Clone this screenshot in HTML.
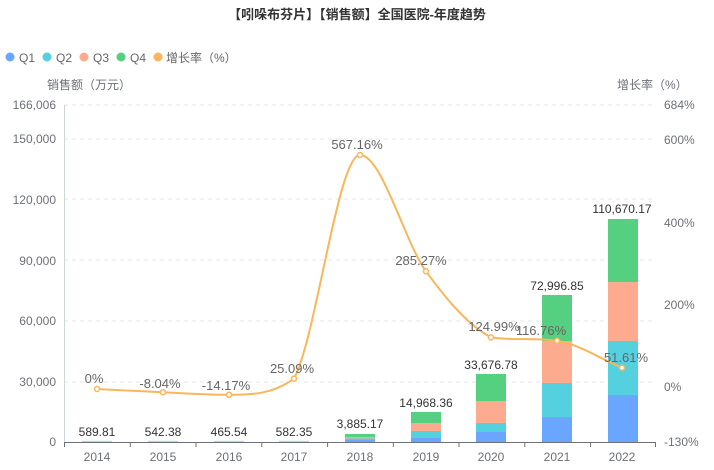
<!DOCTYPE html><html><head><meta charset="utf-8"><style>body{margin:0;background:#fff}svg{display:block;font-family:"Liberation Sans","Noto Sans CJK SC",sans-serif}</style></head><body>
<svg width="714" height="470" viewBox="0 0 714 470">
<text x="357" y="19" text-anchor="middle" font-size="13" font-weight="bold" fill="#333">【吲哚布芬片】【销售额】全国医院-年度趋势</text>
<g font-size="12" fill="#666">
<circle cx="10" cy="57" r="4.5" fill="#6aa5ff"/><text x="19" y="62">Q1</text>
<circle cx="47" cy="57" r="4.5" fill="#55d0df"/><text x="56" y="62">Q2</text>
<circle cx="84" cy="57" r="4.5" fill="#fcab8f"/><text x="93" y="62">Q3</text>
<circle cx="121" cy="57" r="4.5" fill="#55cf80"/><text x="130" y="62">Q4</text>
<circle cx="158" cy="57" r="4.5" fill="#f9b65a"/><text x="166" y="62">增长率（%）</text>
</g>
<g font-size="12" fill="#6e7079">
<text x="47" y="89">销售额（万元）</text>
<text x="617" y="89">增长率（%）</text>
<g text-anchor="end"><text x="56" y="109">166,006</text><text x="56" y="143">150,000</text><text x="56" y="204">120,000</text><text x="56" y="265">90,000</text><text x="56" y="325">60,000</text><text x="56" y="386">30,000</text><text x="56" y="446">0</text></g>
<text x="664" y="109">684%</text><text x="664" y="144">600%</text><text x="664" y="227">400%</text><text x="664" y="309">200%</text><text x="664" y="391">0%</text><text x="664" y="446">-130%</text>
</g>
<g stroke="#e0e6f1" stroke-dasharray="4,4"><line x1="64" y1="105" x2="656" y2="105"/><line x1="64" y1="139" x2="656" y2="139"/><line x1="64" y1="199" x2="656" y2="199"/><line x1="64" y1="260" x2="656" y2="260"/><line x1="64" y1="321" x2="656" y2="321"/><line x1="64" y1="382" x2="656" y2="382"/></g>
<line x1="64.5" y1="105" x2="64.5" y2="442" stroke="#ccd6d6"/>
<line x1="64" y1="442.5" x2="656" y2="442.5" stroke="#6e7079"/>
<g stroke="#6e7079"><line x1="64.5" y1="442" x2="64.5" y2="447"/><line x1="130.3" y1="442" x2="130.3" y2="447"/><line x1="196" y1="442" x2="196" y2="447"/><line x1="261.8" y1="442" x2="261.8" y2="447"/><line x1="327.6" y1="442" x2="327.6" y2="447"/><line x1="393.3" y1="442" x2="393.3" y2="447"/><line x1="459" y1="442" x2="459" y2="447"/><line x1="524.8" y1="442" x2="524.8" y2="447"/><line x1="590.6" y1="442" x2="590.6" y2="447"/><line x1="655.5" y1="442" x2="655.5" y2="447"/></g>
<g font-size="12" fill="#6e7079" text-anchor="middle"><text x="97" y="461">2014</text><text x="163" y="461">2015</text><text x="229" y="461">2016</text><text x="294" y="461">2017</text><text x="360" y="461">2018</text><text x="426" y="461">2019</text><text x="491" y="461">2020</text><text x="557" y="461">2021</text><text x="622" y="461">2022</text></g>
<g>
<rect x="82" y="440.8" width="30" height="1.2" fill="#a9e3c3"/><rect x="148" y="440.8" width="30" height="1.2" fill="#a9e3c3"/><rect x="214" y="440.8" width="30" height="1.2" fill="#a9e3c3"/><rect x="279" y="440.8" width="30" height="1.2" fill="#a9e3c3"/>
<rect x="345" y="440" width="30" height="2" fill="#6aa5ff"/><rect x="345" y="438.5" width="30" height="1.5" fill="#55d0df"/><rect x="345" y="437" width="30" height="1.5" fill="#fcab8f"/><rect x="345" y="434" width="30" height="3" fill="#55cf80"/>
<rect x="411" y="438" width="30" height="4" fill="#6aa5ff"/><rect x="411" y="431" width="30" height="7" fill="#55d0df"/><rect x="411" y="423" width="30" height="8" fill="#fcab8f"/><rect x="411" y="412" width="30" height="11" fill="#55cf80"/>
<rect x="476" y="432" width="30" height="10" fill="#6aa5ff"/><rect x="476" y="423" width="30" height="9" fill="#55d0df"/><rect x="476" y="401" width="30" height="22" fill="#fcab8f"/><rect x="476" y="374" width="30" height="27" fill="#55cf80"/>
<rect x="542" y="417" width="30" height="25" fill="#6aa5ff"/><rect x="542" y="383" width="30" height="34" fill="#55d0df"/><rect x="542" y="341" width="30" height="42" fill="#fcab8f"/><rect x="542" y="295" width="30" height="46" fill="#55cf80"/>
<rect x="608" y="395" width="30" height="47" fill="#6aa5ff"/><rect x="608" y="341" width="30" height="54" fill="#55d0df"/><rect x="608" y="282" width="30" height="59" fill="#fcab8f"/><rect x="608" y="219" width="30" height="63" fill="#55cf80"/>
</g>
<g font-size="12" fill="#333" text-anchor="middle"><text x="97" y="436">589.81</text><text x="163" y="436">542.38</text><text x="229" y="436">465.54</text><text x="294" y="436">582.35</text><text x="360" y="428">3,885.17</text><text x="426" y="407">14,968.36</text><text x="491" y="369">33,676.78</text><text x="557" y="290">72,996.85</text><text x="622" y="213">110,670.17</text></g>
<path d="M97,389 C118.9,390.1 141.1,391.3 163,392.3 C184.9,393.3 207.1,394.8 229,394.8 C250.9,394.8 272.1,394.6 294,378.6 C315.9,338.6 338.1,155 360,155 C381.9,155 404.1,241 426,271.3 C447.9,301.6 469.1,325.8 491,337.4 C512.9,340.8 535.1,337.4 557,340.8 C578.9,344.2 600.1,358.7 622,367.7" fill="none" stroke="#f9b65a" stroke-width="2"/>
<g fill="#fff" stroke="#f9b65a" stroke-width="1.5"><circle cx="97" cy="389" r="2.5"/><circle cx="163" cy="392.3" r="2.5"/><circle cx="229" cy="394.8" r="2.5"/><circle cx="294" cy="378.6" r="2.5"/><circle cx="360" cy="155" r="2.5"/><circle cx="426" cy="271.3" r="2.5"/><circle cx="491" cy="337.4" r="2.5"/><circle cx="557" cy="340.8" r="2.5"/><circle cx="622" cy="367.7" r="2.5"/></g>
<g font-size="13" fill="#666" text-anchor="middle"><text x="94" y="383">0%</text><text x="160" y="388">-8.04%</text><text x="226" y="390">-14.17%</text><text x="292" y="373">25.09%</text><text x="357" y="149">567.16%</text><text x="421" y="265">285.27%</text><text x="494" y="331">124.99%</text><text x="541" y="335">116.76%</text><text x="626" y="362">51.61%</text></g>
</svg></body></html>
